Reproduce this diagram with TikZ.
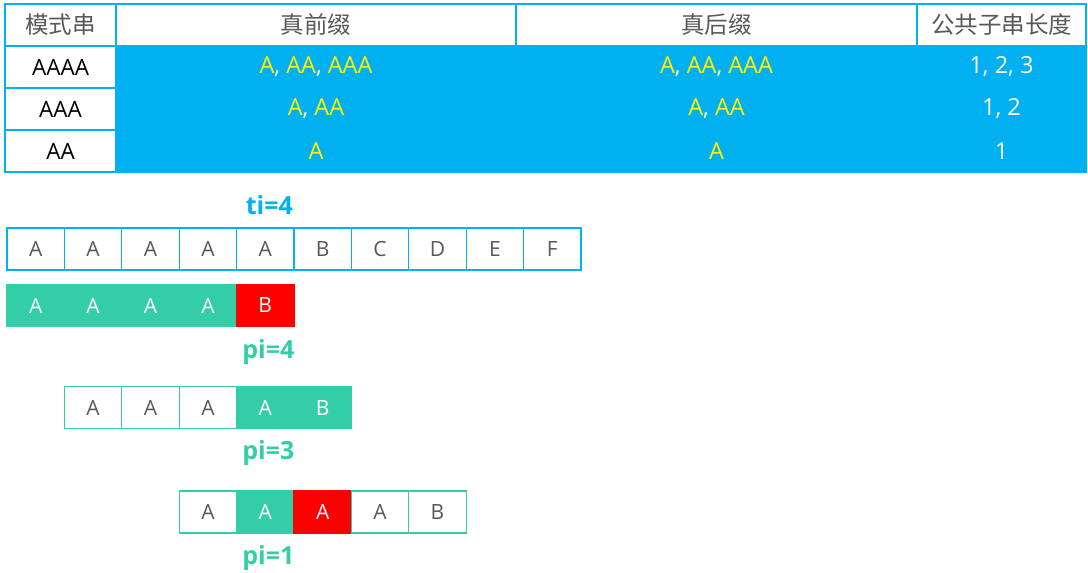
\documentclass[tikz,border=0pt]{standalone}
\usepackage{fontspec}
\setmainfont{Open Sans}
\newfontfamily\cjk{Noto Sans CJK SC}

\definecolor{tblue}{RGB}{0,176,240}
\definecolor{pgreen}{RGB}{51,206,168}
\definecolor{txtgray}{RGB}{89,89,89}
\newcommand{\wcomma}{\textcolor{white}{,} }

\begin{document}
\begin{tikzpicture}[x=1pt, y=-1pt, node distance=42pt]
        \tikzstyle{head} = [rectangle, draw=tblue, line width=1.5pt, fill=white, minimum height=42pt, inner sep=0pt, text=txtgray, font=\cjk\fontsize{23.5}{26}\selectfont]
        \tikzstyle{rowname} = [rectangle, draw=tblue, line width=1.5pt, fill=white, minimum width=111pt, minimum height=42pt, inner sep=0pt, text=black, font=\fontsize{22.5}{26}\selectfont]
        \tikzstyle{rowcell} = [rectangle, draw=tblue, line width=1.5pt, fill=tblue, minimum height=42pt, inner sep=0pt, text=yellow, font=\fontsize{23.5}{26}\selectfont]
        \tikzstyle{tcell} = [rectangle, draw=tblue, line width=1.2pt, fill=white, minimum width=57.4pt, minimum height=42pt, inner sep=0pt, text=txtgray, font=\fontsize{21}{24}\selectfont]
        \tikzstyle{pcell} = [tcell, draw=pgreen]
        \tikzstyle{pmatch} = [tcell, draw=pgreen, fill=pgreen, text=white]
        \tikzstyle{pfail} = [tcell, draw=red, fill=red, text=white]
        \tikzstyle{idx} = [font=\fontsize{25}{28}\selectfont\bfseries]

        \useasboundingbox (0,0) rectangle (1088,573);

        % table
        \node [head, minimum width=111pt] (hmode) at (60.5,25) {模式串};
        \node [head, minimum width=400pt, right of=hmode, node distance=255.5pt] (hpre) {真前缀};
        \node [head, minimum width=401pt, right of=hpre, node distance=400.5pt] (hsuf) {真后缀};
        \node [head, minimum width=169pt, right of=hsuf, node distance=285pt] (hlen) {公共子串长度};

        \node [rowname, below of=hmode] (mode1) {AAAA};
        \node [rowcell, minimum width=400pt, right of=mode1, node distance=255.5pt] (pre1) {A\wcomma AA\wcomma AAA};
        \node [rowcell, minimum width=401pt, right of=pre1, node distance=400.5pt] (suf1) {A\wcomma AA\wcomma AAA};
        \node [rowcell, minimum width=169pt, right of=suf1, node distance=285pt, text=white] (len1) {1, 2, 3};

        \node [rowname, below of=mode1] (mode2) {AAA};
        \node [rowcell, minimum width=400pt, right of=mode2, node distance=255.5pt] (pre2) {A\wcomma AA};
        \node [rowcell, minimum width=401pt, right of=pre2, node distance=400.5pt] (suf2) {A\wcomma AA};
        \node [rowcell, minimum width=169pt, right of=suf2, node distance=285pt, text=white] (len2) {1, 2};

        \node [rowname, below of=mode2] (mode3) {AA};
        \node [rowcell, minimum width=400pt, right of=mode3, node distance=255.5pt] (pre3) {A};
        \node [rowcell, minimum width=401pt, right of=pre3, node distance=400.5pt] (suf3) {A};
        \node [rowcell, minimum width=169pt, right of=suf3, node distance=285pt, text=white] (len3) {1};

        % text string
        \node [tcell] (t0) at (35.7,249) {A};
        \node [tcell, right of=t0, node distance=57.4pt] (t1) {A};
        \node [tcell, right of=t1, node distance=57.4pt] (t2) {A};
        \node [tcell, right of=t2, node distance=57.4pt] (t3) {A};
        \node [tcell, right of=t3, node distance=57.4pt] (t4) {A};
        \node [tcell, right of=t4, node distance=57.4pt] (t5) {B};
        \node [tcell, right of=t5, node distance=57.4pt] (t6) {C};
        \node [tcell, right of=t6, node distance=57.4pt] (t7) {D};
        \node [tcell, right of=t7, node distance=57.4pt] (t8) {E};
        \node [tcell, right of=t8, node distance=57.4pt] (t9) {F};
        \node [idx, text=tblue, above of=t4, node distance=44pt, xshift=4pt] (ti) {ti=4};

        % pattern, pi=4
        \node [pmatch] (pa0) at (35.7,305.5) {A};
        \node [pmatch, right of=pa0, node distance=57.4pt] (pa1) {A};
        \node [pmatch, right of=pa1, node distance=57.4pt] (pa2) {A};
        \node [pmatch, right of=pa2, node distance=57.4pt] (pa3) {A};
        \node [pfail, right of=pa3, node distance=57.4pt] (pa4) {B};
        \node [idx, text=pgreen, below of=pa4, node distance=47pt, xshift=3pt] (pia) {pi=4};

        % pattern, pi=3
        \node [pcell] (pb0) at (93.1,407.5) {A};
        \node [pcell, right of=pb0, node distance=57.4pt] (pb1) {A};
        \node [pcell, right of=pb1, node distance=57.4pt] (pb2) {A};
        \node [pmatch, right of=pb2, node distance=57.4pt] (pb3) {A};
        \node [pmatch, right of=pb3, node distance=57.4pt] (pb4) {B};
        \node [idx, text=pgreen, below of=pb3, node distance=46pt, xshift=3pt] (pib) {pi=3};

        % pattern, pi=1
        \node [pcell] (pc0) at (207.9,512) {A};
        \node [pmatch, right of=pc0, node distance=57.4pt] (pc1) {A};
        \node [pfail, right of=pc1, node distance=57.4pt] (pc2) {A};
        \node [pcell, right of=pc2, node distance=57.4pt] (pc3) {A};
        \node [pcell, right of=pc3, node distance=57.4pt] (pc4) {B};
        \node [idx, text=pgreen, below of=pc1, node distance=46pt, xshift=3pt] (pic) {pi=1};
    \end{tikzpicture}
\end{document}
